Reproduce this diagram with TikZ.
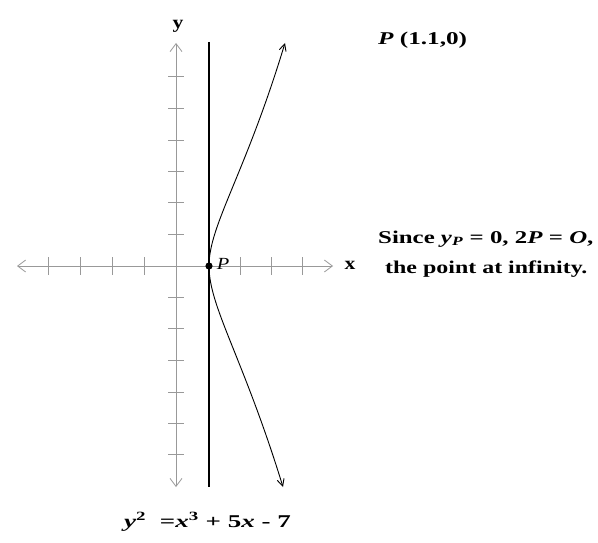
\documentclass[tikz,border=0pt]{standalone}
\usepackage{fontspec}
\usepackage{graphicx}
\setmainfont{Liberation Serif}
\usetikzlibrary{arrows.meta}
\newcommand\wide[2][1.3]{\scalebox{#1}[1]{#2}}
\begin{document}
\begin{tikzpicture}[x=1pt,y=-1pt,
  axisline/.style={draw=black!40, line width=0.8pt},
  axisarrows/.style={{Straight Barb[length=8pt,width=12pt]}-{Straight Barb[length=8pt,width=12pt]}},
  tickmark/.style={draw=black!40, line width=0.8pt},
  curveline/.style={draw=black, line width=0.9pt},
  curvetip/.style={-{Straight Barb[length=7pt,width=7pt]}},
  vline/.style={draw=black, line width=1.6pt},
  lbl/.style={inner sep=0pt, font=\fontsize{18}{20}\selectfont},
  axlbl/.style={inner sep=0pt, font=\fontsize{18}{20}\selectfont\bfseries}]
\useasboundingbox (0,0) rectangle (598,543);
\fill[white] (0,0) rectangle (598,543);
% axes
\coordinate (xl) at (17,266);
\coordinate (xr) at (333,266);
\coordinate (yt) at (176,43);
\coordinate (yb) at (176,487);
\draw[axisline,axisarrows] (xl) -- (xr);
\draw[axisline,axisarrows] (yb) -- (yt);
\foreach \tx in {48,80,112,144,240,271,302}
  \draw[tickmark] (\tx,257) -- (\tx,275);
\foreach \ty in {76,108,140,171,202,234,297,328,360,392,423,454}
  \draw[tickmark] (168,\ty) -- (184,\ty);
\node[axlbl] (ylabel) at (178,26) {\wide[1.2]{y}};
\node[axlbl] (xlabel) at (350,265) {\wide[1.2]{x}};
% vertical line through P
\coordinate (vt) at (209,42);
\coordinate (vb) at (209,487);
\draw[vline] (vt) -- (vb);
% curve y^2 = x^3 + 5x - 7
\coordinate (P) at (209,266);
\coordinate (ctop) at (285,43);
\coordinate (cbot) at (283,487);
\draw[curveline,curvetip] (P) .. controls (209,225) and (245,175) .. (ctop);
\draw[curveline,curvetip] (P) .. controls (209,307) and (243,357) .. (cbot);
% point P
\fill (P) circle (3.6pt);
\node[inner sep=0pt, font=\fontsize{17}{18}\selectfont\itshape] (plabel) at (223,264) {\wide[1.2]{P}};
% texts
\node[lbl, anchor=base west] (ptitle) at (378,45) {\wide[1.4]{\bfseries\itshape P \upshape(1.1,0)}};
\node[lbl, anchor=base west] (since) at (378,243) {\wide[1.38]{\bfseries Since \textit{y}\textsubscript{\textit{P}} = 0, 2\textit{P} = \textit{O},}};
\node[lbl, anchor=base west] (inf) at (385,273) {\wide[1.33]{\bfseries the point at infinity.}};
\node[lbl, anchor=base west] (eqn) at (124,527) {\wide[1.5]{\bfseries\itshape y\textsuperscript{\upshape 2}\ \ \upshape=\itshape x\textsuperscript{\upshape 3} \upshape+ 5\itshape x \upshape- 7}};
\end{tikzpicture}
\end{document}
